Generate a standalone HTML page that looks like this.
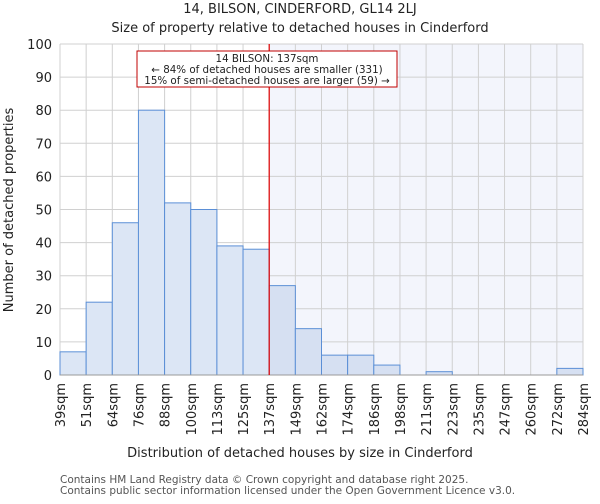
<!DOCTYPE html>
<html><head><meta charset="utf-8"><style>
body{margin:0;background:#fff;font-family:"DejaVu Sans","Liberation Sans",sans-serif;}
svg text{font-family:"DejaVu Sans","Liberation Sans",sans-serif;}
</style></head><body>
<svg id="chart" width="600" height="500" xmlns="http://www.w3.org/2000/svg">
<text x="300" y="13" font-size="13" text-anchor="middle" fill="#222">14, BILSON, CINDERFORD, GL14 2LJ</text>
<text x="300" y="32" font-size="13" text-anchor="middle" fill="#222">Size of property relative to detached houses in Cinderford</text>
<g id="plot"></g>
<text x="300" y="457" font-size="13" text-anchor="middle" fill="#222">Distribution of detached houses by size in Cinderford</text>
<text transform="translate(13,210) rotate(-90)" font-size="13" text-anchor="middle" fill="#222">Number of detached properties</text>
<text x="60" y="483" font-size="10.5" fill="#555">Contains HM Land Registry data © Crown copyright and database right 2025.</text>
<text x="60" y="494" font-size="10.5" fill="#555">Contains public sector information licensed under the Open Government Licence v3.0.</text>
</svg>
<script>
const categories=["39sqm","51sqm","64sqm","76sqm","88sqm","100sqm","113sqm","125sqm","137sqm","149sqm","162sqm","174sqm","186sqm","198sqm","211sqm","223sqm","235sqm","247sqm","260sqm","272sqm","284sqm"];
const counts=[7,22,46,80,52,50,39,38,27,14,6,6,3,0,1,0,0,0,0,2];
const yTicks=[0,10,20,30,40,50,60,70,80,90,100];
const markerIndex=8;
const annotationLines=["14 BILSON: 137sqm","← 84% of detached houses are smaller (331)","15% of semi-detached houses are larger (59) →"];
const X0=60,X1=583,Y0=375,Y1=44,NS="http://www.w3.org/2000/svg";
const nb=counts.length;
const xs=i=>X0+(X1-X0)*i/nb;
const ys=v=>Y0-(Y0-Y1)*v/100;
const g=document.getElementById('plot');
function mk(t,a){const e=document.createElementNS(NS,t);for(const k in a)e.setAttribute(k,a[k]);g.appendChild(e);return e;}
let e=mk('rect',{x:xs(markerIndex),y:Y1,width:X1-xs(markerIndex),height:Y0-Y1,fill:'#f3f5fc'});


yTicks.forEach(v=>{let l=mk('line',{x1:X0,x2:X1,y1:ys(v),y2:ys(v),stroke:'#d0d0d0','stroke-width':1});


let t=mk('text',{x:X0-8,y:ys(v)+5,'font-size':13,'text-anchor':'end',fill:'#222'});t.textContent=v;

});
categories.forEach((c,i)=>{let l=mk('line',{x1:xs(i),x2:xs(i),y1:Y1,y2:Y0,stroke:'#d0d0d0','stroke-width':1});


let t=mk('text',{transform:`translate(${xs(i)+5},${Y0+8}) rotate(-90)`,'font-size':13,'text-anchor':'end',fill:'#222'});t.textContent=c;

});
counts.forEach((v,i)=>{if(v<=0)return;let r=mk('rect',{x:xs(i),y:ys(v),width:xs(i+1)-xs(i),height:Y0-ys(v),fill:i>=markerIndex?'#d6e0f2':'#dce6f5',stroke:'#5b8fd6','stroke-width':1});

});
let ax=mk('line',{x1:X0,x2:X1,y1:Y0,y2:Y0,stroke:'#999','stroke-width':1});


let m=mk('line',{x1:xs(markerIndex),x2:xs(markerIndex),y1:Y1,y2:Y0,stroke:'#e00000','stroke-width':1.2,'stroke-opacity':1});


let b=mk('rect',{x:137,y:51,width:260,height:36,fill:'#fff',stroke:'#c00000','stroke-width':1});


annotationLines.forEach((s,k)=>{let t=mk('text',{x:267,y:62+k*11,'font-size':10.3,'text-anchor':'middle',fill:'#222'});t.textContent=s;

});
</script>
</body></html>
